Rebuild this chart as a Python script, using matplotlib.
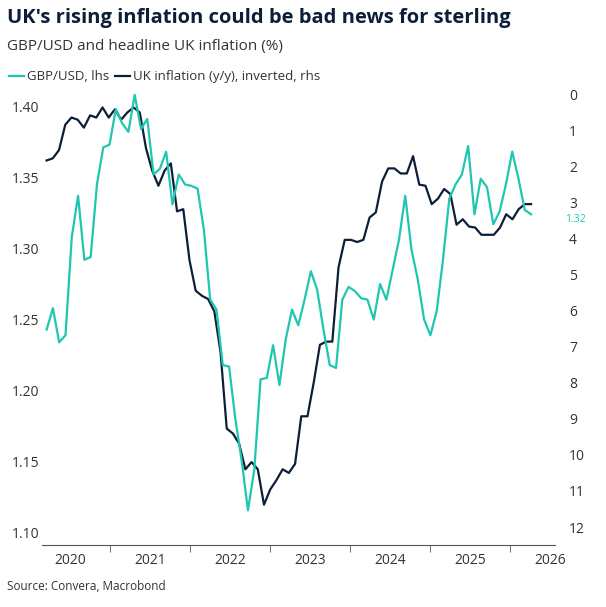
import matplotlib
matplotlib.use("Agg")
import matplotlib.pyplot as plt
import numpy as np

plt.rcParams['font.family'] = ['Open Sans', 'DejaVu Sans']

gbp = [1.243,1.258,1.234,1.239,1.308,1.337,1.292,1.294,1.345,1.371,1.373,1.398,1.388,1.382,1.408,1.384,1.391,1.352,1.356,1.368,1.331,1.352,1.345,1.344,1.342,1.313,1.264,1.257,1.218,1.217,1.180,1.151,1.116,1.144,1.208,1.209,1.232,1.204,1.236,1.257,1.246,1.264,1.284,1.271,1.243,1.218,1.216,1.264,1.273,1.270,1.265,1.264,1.250,1.275,1.264,1.285,1.306,1.337,1.299,1.278,1.250,1.239,1.256,1.292,1.335,1.345,1.352,1.372,1.324,1.349,1.343,1.317,1.326,1.345,1.368,1.349,1.327,1.324]
infl = [1.84,1.78,1.55,0.85,0.65,0.71,0.93,0.59,0.65,0.37,0.65,0.42,0.71,0.51,0.37,0.51,1.5,2.12,2.54,2.12,1.92,3.25,3.19,4.6,5.45,5.59,5.68,6.02,7.15,9.27,9.41,9.69,10.4,10.2,10.4,11.38,10.96,10.7,10.4,10.5,10.25,8.93,8.93,8.0,6.95,6.86,6.86,4.8,4.04,4.04,4.1,4.04,3.42,3.28,2.43,2.06,2.06,2.2,2.2,1.72,2.51,2.54,3.05,2.9,2.63,2.77,3.62,3.47,3.67,3.7,3.9,3.9,3.9,3.7,3.33,3.47,3.19,3.05,3.05]
years = list(range(2020, 2027))
x_start, x_end = 2020.21, 2026.26
xg = np.linspace(x_start, x_end, len(gbp))
xi = np.linspace(x_start, x_end, len(infl))

teal = '#1fc6b0'; navy = '#0d1f38'
fig = plt.figure(figsize=(6.06, 6.07), dpi=100)
ax = fig.add_axes([0.069, 0.102, 0.847, 0.743])
ax2 = ax.twinx()
ax.plot(xg, gbp, color=teal, lw=1.6, zorder=3)
ax2.plot(xi, infl, color=navy, lw=1.6)
ax.set_zorder(ax2.get_zorder()+1); ax.patch.set_visible(False)
ax.set_ylim(1.0915, 1.4085)
yt = [1.10,1.15,1.20,1.25,1.30,1.35,1.40]
ax.set_yticks(yt)
ax.set_yticklabels([f'{v:.2f}' for v in yt])
ax2.set_ylim(12.5, 0)
ax2.set_yticks(range(0, 13))
ax.set_xlim(2020.15, 2026.56)
ax.set_xticks([y + 0.5 for y in years])
ax.set_xticklabels([str(y) for y in years])
ax.set_xticks(years[1:], minor=True)
for a in (ax, ax2):
    for s in ['top', 'left', 'right']:
        a.spines[s].set_visible(False)
    a.tick_params(axis='y', length=0, labelsize=10, colors='#333333')
ax2.spines['bottom'].set_visible(False)
ax.spines['bottom'].set_color('#555555')
ax.tick_params(axis='x', which='major', length=0, labelsize=10, colors='#333333', pad=6)
ax.tick_params(axis='x', which='minor', length=5, color='#555555')
ax.tick_params(axis='y', pad=2)
ax2.tick_params(axis='y', pad=10)
ax.text(1.02, (gbp[-1]-1.0915)/(1.4085-1.0915) - 0.012, f'{gbp[-1]:.2f}', transform=ax.transAxes,
        color=teal, fontsize=7.5, va='center', ha='left')
fig.text(0.012, 0.962, "UK's rising inflation could be bad news for sterling", fontsize=14.5,
         fontweight='bold', color=navy)
fig.text(0.012, 0.918, "GBP/USD and headline UK inflation (%)", fontsize=11, color='#333333')
fig.lines.append(plt.Line2D([0.015, 0.04], [0.874, 0.874], color=teal, lw=1.6, transform=fig.transFigure))
fig.text(0.045, 0.874, "GBP/USD, lhs", fontsize=9.5, va='center', color='#333333')
fig.lines.append(plt.Line2D([0.19, 0.215], [0.874, 0.874], color=navy, lw=1.6, transform=fig.transFigure))
fig.text(0.22, 0.874, "UK inflation (y/y), inverted, rhs", fontsize=9.5, va='center', color='#333333')
fig.text(0.012, 0.028, "Source: Convera, Macrobond", fontsize=8.5, color='#333333')
fig.savefig('out.png', dpi=100)
